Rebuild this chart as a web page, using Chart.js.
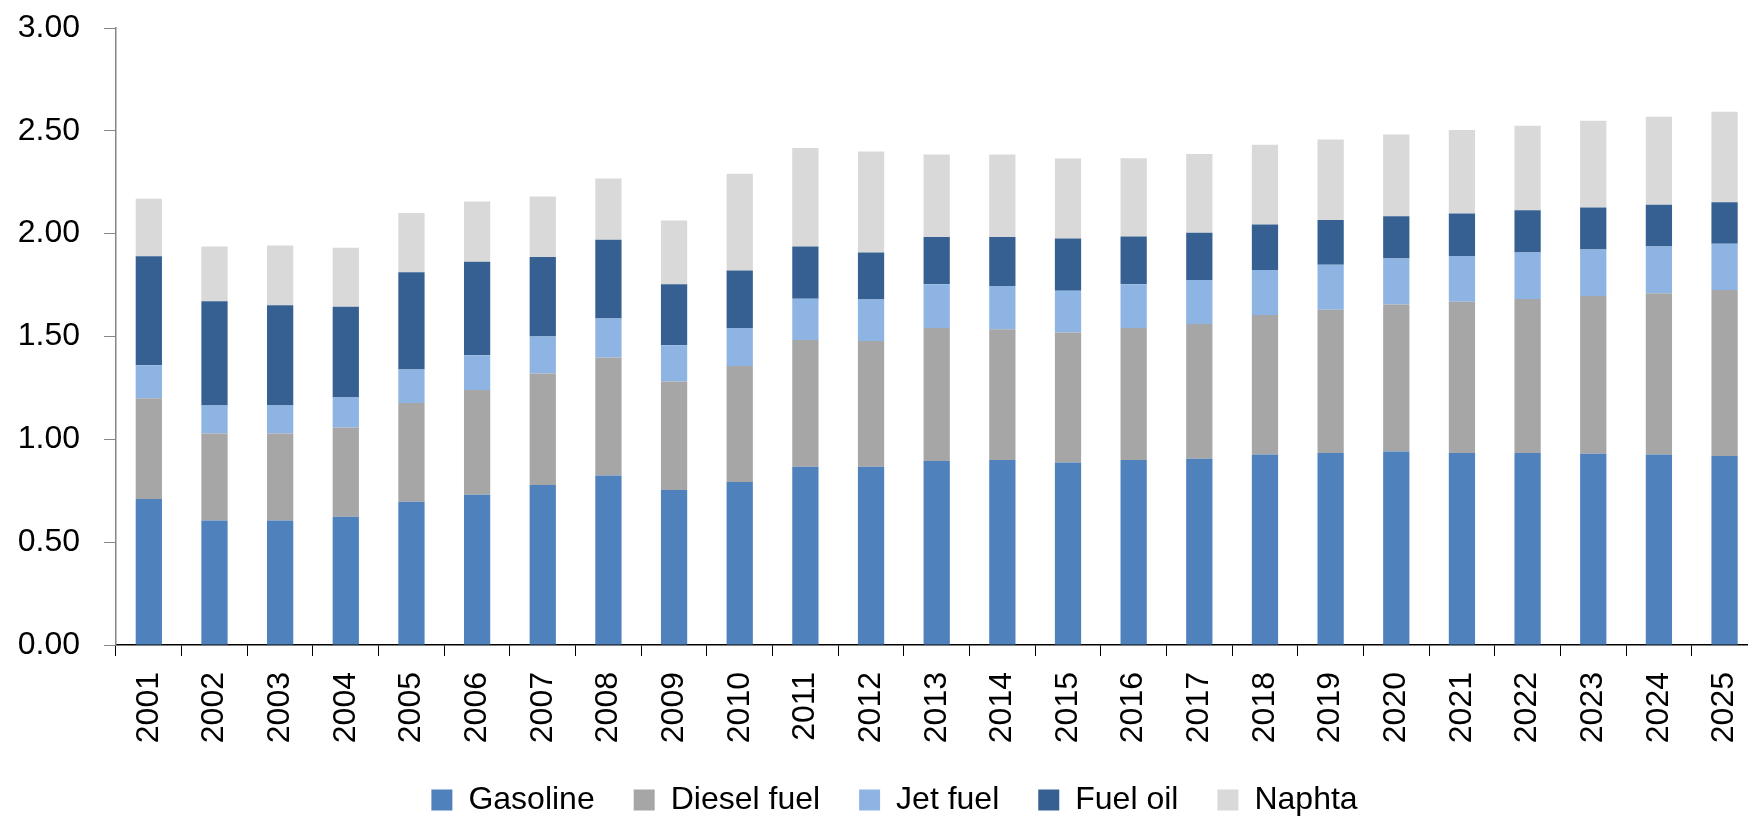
<!DOCTYPE html>
<html>
<head>
<meta charset="utf-8">
<script src="https://cdn.jsdelivr.net/npm/chart.js@4.4.1/dist/chart.umd.min.js"></script>
<style>
  html, body { margin: 0; padding: 0; background: #fff; overflow: hidden; }
  #wrap { width: 1779px; height: 826px; }
</style>
</head>
<body>
<div id="wrap"><canvas id="fuel-chart" width="1779" height="826"></canvas></div>
<script>
var years = ['2001','2002','2003','2004','2005','2006','2007','2008','2009','2010','2011','2012','2013',
             '2014','2015','2016','2017','2018','2019','2020','2021','2022','2023','2024','2025']

var gasoline = [0.71,0.605,0.605,0.624,0.696,0.731,0.778,0.824,0.754,0.793,0.867,0.867,0.895,
                0.90,0.887,0.90,0.906,0.926,0.934,0.941,0.934,0.934,0.930,0.926,0.919]
var diesel   = [0.49,0.423,0.423,0.434,0.481,0.509,0.542,0.574,0.527,0.564,0.616,0.611,0.646,
                0.635,0.633,0.641,0.655,0.678,0.696,0.715,0.735,0.748,0.767,0.784,0.807]
var jetFuel  = [0.16,0.136,0.136,0.145,0.163,0.169,0.18,0.189,0.176,0.184,0.201,0.202,0.213,
                0.21,0.203,0.213,0.214,0.219,0.219,0.223,0.223,0.226,0.226,0.228,0.225]
var fuelOil  = [0.53,0.507,0.488,0.442,0.472,0.455,0.386,0.384,0.297,0.28,0.254,0.228,0.23,
                0.239,0.254,0.232,0.23,0.221,0.217,0.206,0.206,0.206,0.204,0.202,0.202]
var naphta   = [0.28,0.267,0.29,0.286,0.289,0.293,0.295,0.297,0.31,0.47,0.479,0.492,0.401,
                0.401,0.388,0.381,0.382,0.388,0.392,0.397,0.406,0.411,0.422,0.429,0.44]

var yTicks = [0, 0.5, 1, 1.5, 2, 2.5, 3]

var FONT = { family: "'Liberation Sans', Arial, sans-serif", size: 32 }

function ds(label, data, color){
    return { label: label, data: data, backgroundColor: color, borderWidth: 0,
             barPercentage: 0.4, categoryPercentage: 1.0 }
}

// nudge the legend a bit, like the original
var legendShift = {
    id: 'legendShift',
    afterLayout: function(chart){
        if(chart.legend){
            chart.legend.left += 6
            chart.legend.right += 6
        }
    }
}

var chart = new Chart(document.getElementById('fuel-chart').getContext('2d'), {
    type: 'bar',
    data: {
        labels: years,
        datasets: [
            ds('Gasoline', gasoline, '#4F81BD'),
            ds('Diesel fuel', diesel, '#A6A6A6'),
            ds('Jet fuel', jetFuel, '#8EB4E3'),
            ds('Fuel oil', fuelOil, '#376092'),
            ds('Naphta', naphta, '#D9D9D9')
        ]
    },
    options: {
        responsive: false,
        animation: false,
        devicePixelRatio: 1,
        layout: { padding: { top: 28, right: 2, left: 0, bottom: 0 } },
        plugins: {
            tooltip: { enabled: false },
            legend: {
                position: 'bottom',
                labels: { font: FONT, color: '#000', boxWidth: 21, boxHeight: 21, padding: 39 }
            }
        },
        scales: {
            x: {
                stacked: true,
                grid: { drawOnChartArea: false, drawTicks: true, tickLength: 11, color: '#000', offset: true },
                border: { color: '#000', width: 1.5 },
                ticks: { font: FONT, color: '#000', minRotation: 90, maxRotation: 90, padding: 16, autoSkip: false },
                afterFit: function(scale){ scale.height = 100 }
            },
            y: {
                stacked: true,
                min: 0,
                max: 3,
                afterBuildTicks: function(scale){ scale.ticks = yTicks.map(function(v){ return { value: v } }) },
                grid: { drawOnChartArea: false, drawTicks: true, tickLength: 12, color: '#868686' },
                border: { color: '#868686', width: 1.5 },
                ticks: { font: FONT, color: '#000', padding: 24,
                         callback: function(v){ return Number(v).toFixed(2) } },
                afterFit: function(scale){
                    scale.width = 116
                    scale.paddingTop = 0
                    scale.paddingBottom = 0
                }
            }
        }
    },
    plugins: [legendShift]
})
</script>
</body>
</html>
